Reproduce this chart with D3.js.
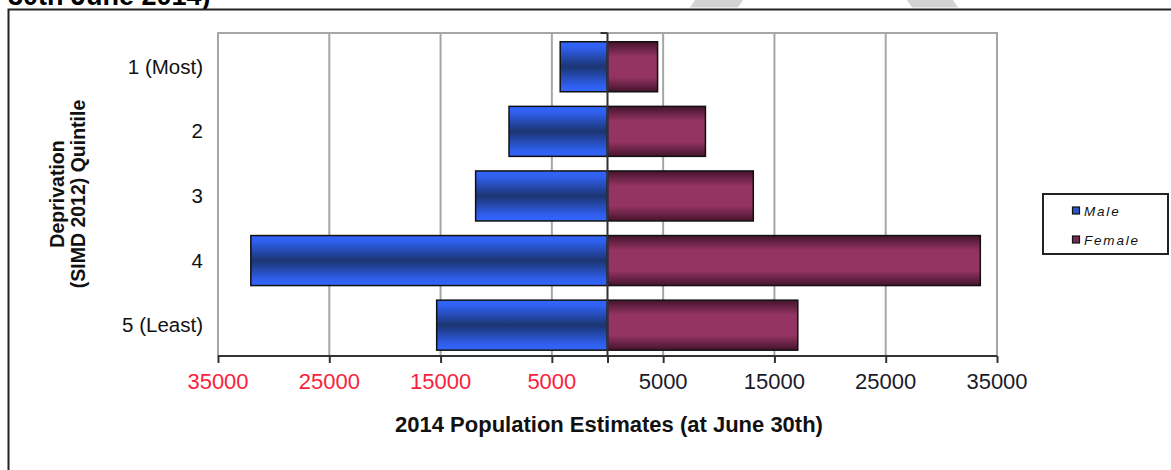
<!DOCTYPE html>
<html>
<head>
<meta charset="utf-8">
<script src="https://cdn.jsdelivr.net/npm/d3@7"></script>
<style>
  html, body { margin: 0; padding: 0; background: #fff; }
  svg { display: block; font-family: Arial, "Liberation Sans", sans-serif; }
</style>
</head>
<body>
<svg id="chart" width="1171" height="470"></svg>
<script>
// Population by deprivation quintile, split by sex
const quintiles = ["1 (Most)", "2", "3", "4", "5 (Least)"];
const maleValues = [4250, 8850, 11850, 32050, 15350];
const femaleValues = [4500, 8800, 13100, 33500, 17100];
const tickValues = [-35000, -25000, -15000, -5000, 5000, 15000, 25000, 35000];
const tickLabels = ["35000", "25000", "15000", "5000", "5000", "15000", "25000", "35000"];
const seriesNames = ["Male", "Female"];

const svg = d3.select("#chart");

// gradients for the bars
const defs = svg.append("defs");
const gMale = defs.append("linearGradient").attr("id", "gMale")
  .attr("x1", 0).attr("y1", 0).attr("x2", 0).attr("y2", 1);
[[0, "#3366ff"], [0.12, "#2f5fee"], [0.5, "#1c3572"], [0.88, "#2f5fee"], [1, "#3366ff"]]
  .forEach(([o, c]) => gMale.append("stop").attr("offset", o).attr("stop-color", c));
const gFemale = defs.append("linearGradient").attr("id", "gFemale")
  .attr("x1", 0).attr("y1", 0).attr("x2", 0).attr("y2", 1);
[[0, "#45142d"], [0.3, "#943463"], [0.7, "#943463"], [1, "#45142d"]]
  .forEach(([o, c]) => gFemale.append("stop").attr("offset", o).attr("stop-color", c));

// page decoration: cut-off heading and grey marks at the top edge
svg.append("text").attr("x", 8).attr("y", 5)
  .attr("font-size", 27).attr("font-weight", "bold").attr("fill", "#000")
  .text("30th June 2014)");
svg.append("polygon").attr("points", "695,0 743,0 738,7.5 690,7.5").attr("fill", "#d3d3d3");
svg.append("polygon").attr("points", "907,0 953,0 958,7.5 912,7.5").attr("fill", "#d3d3d3");

// chart frame
svg.append("rect").attr("x", 8.5).attr("y", 9.5).attr("width", 1180).attr("height", 480)
  .attr("fill", "#fff").attr("stroke", "#222").attr("stroke-width", 2);

const plot = { left: 218, right: 997, top: 33, bottom: 356 };

const x = d3.scaleLinear().domain([-35000, 35000]).range([plot.left, plot.right]);
const y = d3.scaleBand().domain(quintiles).range([plot.top, plot.bottom])
  .paddingInner(0.226).paddingOuter(0.113).align(0.6);

// plot area border
svg.append("rect").attr("x", plot.left).attr("y", plot.top)
  .attr("width", plot.right - plot.left).attr("height", plot.bottom - plot.top)
  .attr("fill", "#fff").attr("stroke", "#a6a6a6").attr("stroke-width", 2);

// vertical gridlines
svg.append("g").selectAll("line").data(tickValues).join("line")
  .attr("x1", d => x(d)).attr("x2", d => x(d))
  .attr("y1", plot.top).attr("y2", plot.bottom)
  .attr("stroke", "#a6a6a6").attr("stroke-width", 2);

// bars
svg.append("g").selectAll("rect").data(quintiles).join("rect")
  .attr("x", (d, i) => x(-maleValues[i]))
  .attr("width", (d, i) => x(0) - x(-maleValues[i]))
  .attr("y", d => y(d)).attr("height", y.bandwidth())
  .attr("fill", "url(#gMale)").attr("stroke", "#111").attr("stroke-width", 1.5);
svg.append("g").selectAll("rect").data(quintiles).join("rect")
  .attr("x", x(0))
  .attr("width", (d, i) => x(femaleValues[i]) - x(0))
  .attr("y", d => y(d)).attr("height", y.bandwidth())
  .attr("fill", "url(#gFemale)").attr("stroke", "#111").attr("stroke-width", 1.5);

// value axis along the bottom
const xAxis = d3.axisBottom(x).tickValues([...tickValues, 0]).tickSize(7).tickFormat("");
const gx = svg.append("g").attr("transform", `translate(0,${plot.bottom})`).call(xAxis);
gx.select(".domain").attr("stroke", "#333").attr("stroke-width", 2)
  .attr("d", `M${plot.left},0H${plot.right}`);
gx.selectAll(".tick line").attr("stroke", "#333").attr("stroke-width", 2);

svg.append("g").selectAll("text").data(tickValues).join("text")
  .attr("x", d => x(d)).attr("y", 389)
  .attr("text-anchor", "middle").attr("font-size", 22)
  .attr("fill", d => d < 0 ? "#fa1e3c" : "#1a1a2a")
  .text((d, i) => tickLabels[i]);

// category axis at zero
svg.append("line").attr("x1", x(0)).attr("x2", x(0))
  .attr("y1", plot.top).attr("y2", plot.bottom)
  .attr("stroke", "#333").attr("stroke-width", 2);
svg.append("line").attr("x1", x(0) - 7).attr("x2", x(0))
  .attr("y1", plot.top).attr("y2", plot.top)
  .attr("stroke", "#333").attr("stroke-width", 2);

// category labels
svg.append("g").selectAll("text").data(quintiles).join("text")
  .attr("x", 203).attr("y", d => y(d) + y.bandwidth() / 2 + 7)
  .attr("text-anchor", "end").attr("font-size", 20.5).attr("fill", "#111")
  .text(d => d);

// axis titles
svg.append("text").attr("x", 609).attr("y", 432)
  .attr("text-anchor", "middle").attr("font-size", 22).attr("font-weight", "bold")
  .attr("fill", "#111").text("2014 Population Estimates (at June 30th)");

const yTitle = svg.append("text")
  .attr("transform", "translate(64,194) rotate(-90)")
  .attr("text-anchor", "middle").attr("font-size", 19.5).attr("font-weight", "bold")
  .attr("fill", "#111");
yTitle.append("tspan").attr("x", 0).attr("y", 0).text("Deprivation");
yTitle.append("tspan").attr("x", 0).attr("y", 21).text("(SIMD 2012) Quintile");

// legend
const legend = svg.append("g");
legend.append("rect").attr("x", 1043).attr("y", 194).attr("width", 125).attr("height", 60)
  .attr("fill", "#fff").attr("stroke", "#222").attr("stroke-width", 2);
const legendFill = ["#2d56c8", "#7a2a52"];
seriesNames.forEach((name, i) => {
  const cy = 211 + i * 29;
  legend.append("rect").attr("x", 1072.5).attr("y", cy - 4).attr("width", 7).attr("height", 7)
    .attr("fill", legendFill[i]).attr("stroke", "#111").attr("stroke-width", 1.2);
  legend.append("text").attr("x", 1084).attr("y", cy + 5)
    .attr("font-size", 13.5).attr("font-style", "italic").attr("letter-spacing", 1.8)
    .attr("fill", "#111").text(name);
});
</script>
</body>
</html>
